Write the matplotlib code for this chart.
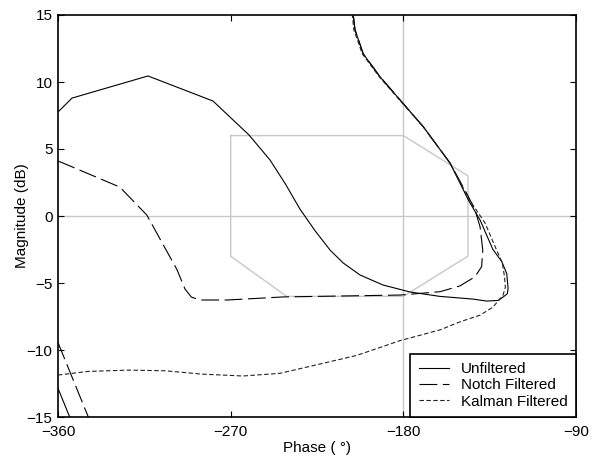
import matplotlib
matplotlib.use("Agg")
import matplotlib.pyplot as plt

plt.rcParams['font.family'] = ['Liberation Sans', 'DejaVu Sans']

# Unfiltered (solid)
unf_phase = [-360, -352.7, -313.1, -279.2, -260.4, -249.5, -241.5, -233.9, -226.0,
             -218.2, -211.4, -202.6, -190.6, -176.5, -160.9, -143.7, -136.6, -130.5,
             -128.0, -125.8, -125.4, -126.1, -128.7, -133.3, -140.0, -146.1, -155.7,
             -169.6, -181.7, -192.2, -200.9, -205.2, -206.1]
unf_mag = [7.76, 8.8, 10.45, 8.58, 6.04, 4.18, 2.4, 0.52, -1.1,
           -2.54, -3.5, -4.4, -5.15, -5.67, -6.0, -6.2, -6.35, -6.3,
           -6.05, -5.8, -5.4, -4.3, -3.4, -2.5, -0.3, 1.19, 3.96,
           6.66, 8.66, 10.4, 12.1, 13.9, 15.0]
unf_wrap_phase = [-360, -353.9]
unf_wrap_mag = [-12.86, -15.0]

# Notch filtered (long dash)
notch_phase = [-360, -357.5, -327.8, -313.7, -298.0, -293.8, -290.5, -286.0, -271.9,
               -242.7, -181.7, -160.9, -150.5, -142.6, -139.2, -138.6, -140.0, -142.6,
               -146.3, -155.7, -169.6, -181.7, -192.2, -200.9, -205.2, -206.1]
notch_mag = [4.1, 3.96, 2.16, 0.07, -4.0, -5.45, -6.05, -6.27, -6.27,
             -6.04, -5.9, -5.65, -5.22, -4.53, -3.78, -2.54, -0.82, 0.45,
             1.5, 3.96, 6.66, 8.66, 10.4, 12.1, 13.9, 15.0]
notch_wrap_phase = [-360, -344.2]
notch_wrap_mag = [-9.45, -15.0]

# Kalman filtered (short dash)
kal_phase = [-360, -344.4, -323.5, -304.2, -285.0, -263.6, -244.3, -225.0, -204.2,
             -181.7, -160.9, -150.5, -140.0, -133.3, -128.0, -126.8, -127.3, -128.4,
             -131.5, -137.5, -145.5, -155.5, -169.6, -182.0, -192.6, -201.4, -205.8,
             -206.6]
kal_mag = [-11.87, -11.6, -11.5, -11.55, -11.8, -11.94, -11.74, -11.1, -10.4,
           -9.3, -8.5, -7.9, -7.4, -6.8, -5.9, -5.3, -4.5, -3.5,
           -2.5, -0.5, 1.2, 3.9, 6.66, 8.66, 10.4, 12.1, 13.9,
           15.0]

# Exclusion region (gray)
reg_phase = [-270, -180, -146.3, -146.3, -180, -240.8, -270, -270]
reg_mag = [6, 6, 3, -3, -6, -6, -3, 6]

xticks = [-360, -270, -180, -90]
yticks = [-15, -10, -5, 0, 5, 10, 15]

fig = plt.figure(figsize=(5.93, 4.61), dpi=100)
ax = fig.add_axes([58/593, (461-417)/461, 518/593, 402/461])

gray = '#c8c8c8'
ax.axvline(-180, color=gray, lw=1.0, zorder=1)
ax.axhline(0, color=gray, lw=1.0, zorder=1)
ax.plot(reg_phase, reg_mag, color=gray, lw=1.0, zorder=1)

lw = 0.8
ax.plot(unf_phase, unf_mag, color='black', lw=lw, label='Unfiltered', zorder=3)
ax.plot(unf_wrap_phase, unf_wrap_mag, color='black', lw=lw, zorder=3)
ax.plot(notch_phase, notch_mag, color='black', lw=lw, dashes=(16, 5),
        label='Notch Filtered', zorder=3)
ax.plot(notch_wrap_phase, notch_wrap_mag, color='black', lw=lw, dashes=(16, 5), zorder=3)
ax.plot(kal_phase, kal_mag, color='#222222', lw=lw, dashes=(4, 2.2),
        label='Kalman Filtered', zorder=3)

ax.set_xlim(-360, -90)
ax.set_ylim(-15, 15)
ax.set_xticks(xticks)
ax.set_yticks(yticks)
ax.tick_params(direction='in', top=True, right=True, length=4, width=0.8,
               labelsize=11, pad=4)
ax.tick_params(axis='x', pad=6)
for s in ax.spines.values():
    s.set_linewidth(1.2)

ax.set_xlabel('Phase ( °)', fontsize=11, labelpad=1)
ax.set_ylabel('Magnitude (dB)', fontsize=11, labelpad=-2)

leg = ax.legend(loc='lower right', bbox_to_anchor=(1, 0), borderaxespad=0,
                fontsize=11, frameon=True, fancybox=False, handlelength=2.0,
                handletextpad=0.75, labelspacing=0.15, borderpad=0.55)
leg.get_frame().set_edgecolor('black')
leg.get_frame().set_linewidth(1.2)
leg.get_frame().set_alpha(1)

fig.savefig('out.png', dpi=100)
